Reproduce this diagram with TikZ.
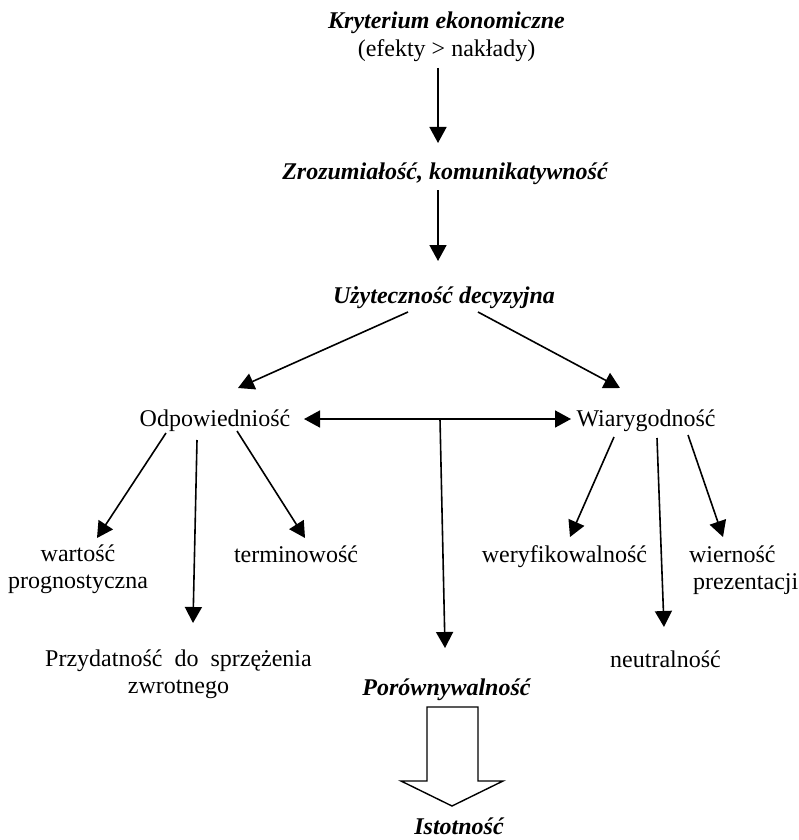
\documentclass[tikz,border=0pt]{standalone}
\usepackage{fontspec}
\setmainfont{Liberation Serif}
\usetikzlibrary{arrows.meta}
\tikzset{
  lbl/.style={inner sep=0pt, outer sep=0pt, font=\fontsize{24}{26.5}\selectfont},
  key/.style={lbl, font=\fontsize{24}{26.5}\selectfont\bfseries\itshape},
  arr/.style={line width=1.6pt, -{Triangle[width=17pt,length=16pt]}},
  darr/.style={line width=1.6pt, {Triangle[width=17pt,length=16pt]}-{Triangle[width=17pt,length=16pt]}},
  blockarr/.style={line width=1.4pt, line join=miter}
}
\begin{document}
\begin{tikzpicture}[x=1pt,y=-1pt]
\useasboundingbox (0,0) rectangle (799,840);
% nodes
\node[key, anchor=base] (kryt) at (446.5,29) {Kryterium ekonomiczne};
\node[lbl, anchor=base] (efek) at (446.5,57) {(efekty > nakłady)};
\node[key, anchor=base] (zroz) at (445,179) {Zrozumiałość, komunikatywność};
\node[key, anchor=base] (uzyt) at (444,303) {Użyteczność decyzyjna};
\node[lbl, anchor=base] (odp) at (215,426) {Odpowiedniość};
\node[lbl, anchor=base] (wiar) at (646,426) {Wiarygodność};
\node[lbl, anchor=north, align=center] (wart) at (78,543.1) {\strut wartość\\prognostyczna};
\node[lbl, anchor=base] (term) at (296,562) {terminowość};
\node[lbl, anchor=north, align=center] (przyd) at (178.5,648.1) {\strut Przydatność\hspace{12pt}do\hspace{12pt}sprzężenia\\zwrotnego};
\node[lbl, anchor=base] (weryf) at (564.5,562) {weryfikowalność};
\node[lbl, anchor=north west, align=left] (wiern) at (689,544.1) {\strut wierność\\\hspace{4pt}prezentacji};
\node[lbl, anchor=base] (neutr) at (665.5,667) {neutralność};
\node[key, anchor=base] (porow) at (446.5,695) {Porównywalność};
\node[key, anchor=base] (istot) at (459,834) {Istotność};
\coordinate (mid) at (440,419);
% connectors
\draw[arr] ([shift={(-8.5,11)}]efek.base) -- ([shift={(-7,-36)}]zroz.base);
\draw[arr] ([shift={(-7,11)}]zroz.base) -- ([shift={(-6,-42)}]uzyt.base);
\draw[arr] ([shift={(-36,9)}]uzyt.base) -- ([shift={(23,-38)}]odp.base);
\draw[arr] ([shift={(34,9)}]uzyt.base) -- ([shift={(-26,-38)}]wiar.base);
\draw[darr] ([shift={(89,-7)}]odp.base) -- ([shift={(-75,-7)}]wiar.base);
\draw[arr] (mid) -- ([shift={(-1.5,-47)}]porow.base);
\draw[arr] ([shift={(-49,7)}]odp.base) -- ([shift={(19,-5.1)}]wart.north);
\draw[arr] ([shift={(-18,14)}]odp.base) -- ([shift={(14.5,-25.1)}]przyd.north);
\draw[arr] ([shift={(22,5)}]odp.base) -- ([shift={(9,-24)}]term.base);
\draw[arr] ([shift={(-32,11)}]wiar.base) -- ([shift={(5.5,-25)}]weryf.base);
\draw[arr] ([shift={(11,12)}]wiar.base) -- ([shift={(-1.5,-40)}]neutr.base);
\draw[arr] ([shift={(42,9)}]wiar.base) -- ([shift={(34,-7.1)}]wiern.north west);
% block arrow
\draw[blockarr] (427,707) -- (478,707) -- (478,781) -- (503,781) -- (452,806) -- (401,781) -- (427,781) -- cycle;
\end{tikzpicture}
\end{document}
